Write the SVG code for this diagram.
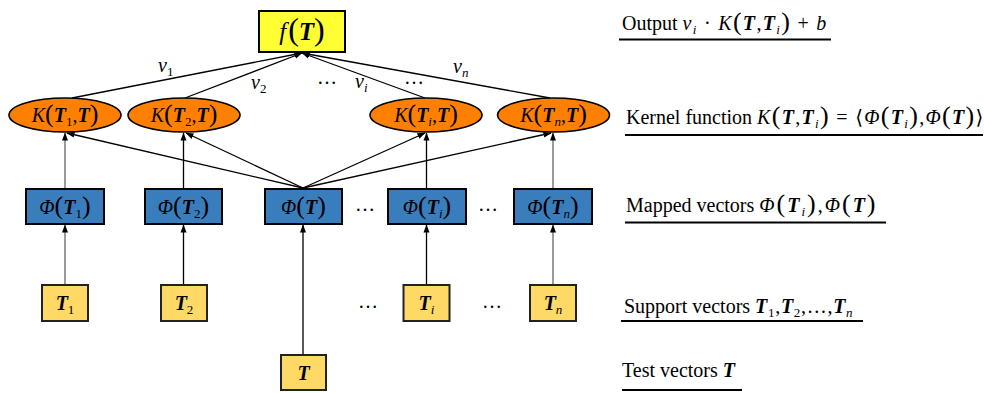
<svg xmlns="http://www.w3.org/2000/svg" width="984" height="393" viewBox="0 0 984 393">
<defs>
<marker id="ah" markerUnits="userSpaceOnUse" markerWidth="8" markerHeight="8" viewBox="0 0 8 8" refX="7.5" refY="4" orient="auto">
<path d="M0,1 L8,4 L0,7 Z" fill="#000"/>
</marker>
</defs>
<style>
text{font-family:"Liberation Serif","DejaVu Serif",serif;font-size:20px;fill:#000}
.i{font-style:italic}
.b{font-style:italic;font-weight:bold}
.s{font-size:13px}
.si{font-size:13px;font-style:italic}
.p{font-size:26px;font-weight:normal}
.fp{font-size:32px;font-weight:normal}
.big{font-size:25px}
.ls{letter-spacing:1.3px}
.c line{stroke:#000;stroke-width:1.3;fill:none;marker-end:url(#ah)}
.c line.g{stroke:#666}
.fbox{fill:#FFFF33;stroke:#000;stroke-width:2}
.ell{fill:#FF8000;stroke:#000;stroke-width:1.6}
.phi{fill:#3A7DBD;stroke:#000;stroke-width:2}
.tb{fill:#FFD966;stroke:#222;stroke-width:2}
.ul{stroke:#000;stroke-width:2.2}
</style>

<g id="connectors" class="c">
<line x1="72" y1="98" x2="302" y2="53"/>
<line x1="185" y1="98" x2="302" y2="53"/>
<line x1="425" y1="98" x2="302" y2="53"/>
<line x1="550" y1="98" x2="302" y2="53"/>
<line class="g" x1="65" y1="189" x2="65" y2="133"/>
<line x1="183.5" y1="189" x2="183.5" y2="133"/>
<line x1="426.5" y1="189" x2="426.5" y2="133"/>
<line class="g" x1="553" y1="189" x2="553" y2="133"/>
<line x1="303" y1="188" x2="67" y2="133"/>
<line x1="303" y1="188" x2="186" y2="133"/>
<line x1="303" y1="188" x2="425" y2="133"/>
<line x1="303" y1="188" x2="551" y2="133"/>
<line class="g" x1="65" y1="285" x2="65" y2="225"/>
<line x1="183.5" y1="285" x2="183.5" y2="225"/>
<line x1="426.5" y1="285" x2="426.5" y2="225"/>
<line class="g" x1="553" y1="285" x2="553" y2="225"/>
<line x1="303" y1="355" x2="303" y2="225"/>
</g>

<g id="f">
<rect class="fbox" x="259" y="11" width="86" height="41"/>
<text class="big" x="302" y="40" text-anchor="middle"><tspan class="i">f</tspan><tspan class="fp" dx="2">(</tspan><tspan class="b">T</tspan><tspan class="fp">)</tspan></text>
</g>

<g id="labels-nu">
<text x="158" y="72"><tspan class="i">ν</tspan><tspan class="s" dy="4">1</tspan></text>
<text x="251" y="89"><tspan class="i">ν</tspan><tspan class="s" dy="4">2</tspan></text>
<text x="355" y="88"><tspan class="i">ν</tspan><tspan class="si" dy="4">i</tspan></text>
<text x="453" y="73"><tspan class="i">ν</tspan><tspan class="si" dy="4">n</tspan></text>
<text x="317" y="84">…</text>
<text x="404" y="84">…</text>
</g>

<g id="k1">
<ellipse class="ell" cx="65" cy="115" rx="56" ry="17"/>
<text x="65" y="122" text-anchor="middle"><tspan class="i">K</tspan><tspan class="p">(</tspan><tspan class="b">T</tspan><tspan class="s" dy="4">1</tspan><tspan dy="-4">,</tspan><tspan class="b">T</tspan><tspan class="p">)</tspan></text>
</g>
<g id="k2">
<ellipse class="ell" cx="184" cy="115" rx="56" ry="17"/>
<text x="184" y="122" text-anchor="middle"><tspan class="i">K</tspan><tspan class="p">(</tspan><tspan class="b">T</tspan><tspan class="s" dy="4">2</tspan><tspan dy="-4">,</tspan><tspan class="b">T</tspan><tspan class="p">)</tspan></text>
</g>
<g id="ki">
<ellipse class="ell" cx="426" cy="115" rx="56" ry="17"/>
<text x="426" y="122" text-anchor="middle"><tspan class="i">K</tspan><tspan class="p">(</tspan><tspan class="b">T</tspan><tspan class="si" dy="4">i</tspan><tspan dy="-4">,</tspan><tspan class="b">T</tspan><tspan class="p">)</tspan></text>
</g>
<g id="kn">
<ellipse class="ell" cx="553.5" cy="115" rx="56" ry="17"/>
<text x="553.5" y="122" text-anchor="middle"><tspan class="i">K</tspan><tspan class="p">(</tspan><tspan class="b">T</tspan><tspan class="si" dy="4">n</tspan><tspan dy="-4">,</tspan><tspan class="b">T</tspan><tspan class="p">)</tspan></text>
</g>

<g id="phi1">
<rect class="phi" x="26" y="189" width="78" height="35"/>
<text x="65" y="214" text-anchor="middle"><tspan class="i">Φ</tspan><tspan class="p">(</tspan><tspan class="b">T</tspan><tspan class="s" dy="4">1</tspan><tspan class="p" dy="-4">)</tspan></text>
</g>
<g id="phi2">
<rect class="phi" x="145" y="189" width="77" height="35"/>
<text x="183.5" y="214" text-anchor="middle"><tspan class="i">Φ</tspan><tspan class="p">(</tspan><tspan class="b">T</tspan><tspan class="s" dy="4">2</tspan><tspan class="p" dy="-4">)</tspan></text>
</g>
<g id="phiT">
<rect class="phi" x="265" y="189" width="77" height="35"/>
<text x="303.5" y="214" text-anchor="middle"><tspan class="i">Φ</tspan><tspan class="p">(</tspan><tspan class="b">T</tspan><tspan class="p">)</tspan></text>
</g>
<g id="phii">
<rect class="phi" x="388" y="189" width="78" height="35"/>
<text x="427" y="214" text-anchor="middle"><tspan class="i">Φ</tspan><tspan class="p">(</tspan><tspan class="b">T</tspan><tspan class="si" dy="4">i</tspan><tspan class="p" dy="-4">)</tspan></text>
</g>
<g id="phin">
<rect class="phi" x="514" y="189" width="78" height="35"/>
<text x="553" y="214" text-anchor="middle"><tspan class="i">Φ</tspan><tspan class="p">(</tspan><tspan class="b">T</tspan><tspan class="si" dy="4">n</tspan><tspan class="p" dy="-4">)</tspan></text>
</g>
<g id="dots-phi">
<text x="355" y="211">…</text>
<text x="478" y="211">…</text>
</g>

<g id="t1">
<rect class="tb" x="42" y="285" width="46" height="36"/>
<text x="65" y="310" text-anchor="middle"><tspan class="b">T</tspan><tspan class="s" dy="4">1</tspan></text>
</g>
<g id="t2">
<rect class="tb" x="161" y="285" width="46" height="36"/>
<text x="184" y="310" text-anchor="middle"><tspan class="b">T</tspan><tspan class="s" dy="4">2</tspan></text>
</g>
<g id="ti">
<rect class="tb" x="403.5" y="285" width="46" height="36"/>
<text x="426.5" y="310" text-anchor="middle"><tspan class="b">T</tspan><tspan class="si" dy="4">i</tspan></text>
</g>
<g id="tn">
<rect class="tb" x="530" y="285" width="46" height="36"/>
<text x="553" y="310" text-anchor="middle"><tspan class="b">T</tspan><tspan class="si" dy="4">n</tspan></text>
</g>
<g id="dots-t">
<text x="358" y="308">…</text>
<text x="482" y="308">…</text>
</g>
<g id="t">
<rect class="tb" x="281" y="355" width="45" height="35"/>
<text x="303.5" y="380" text-anchor="middle"><tspan class="b">T</tspan></text>
</g>

<g id="legend">
<text x="622" y="30">Output <tspan class="ls"><tspan class="i">ν</tspan><tspan class="si" dy="4">i</tspan><tspan dy="-4"> · </tspan><tspan class="i">K</tspan><tspan class="p">(</tspan><tspan class="b">T</tspan>,<tspan class="b">T</tspan><tspan class="si" dy="4">i</tspan><tspan class="p" dy="-4">)</tspan> + <tspan class="i">b</tspan></tspan></text>
<line class="ul" x1="619" y1="39.5" x2="831" y2="39.5"/>
<text x="626" y="124">Kernel function <tspan class="ls"><tspan class="i">K</tspan><tspan class="p">(</tspan><tspan class="b">T</tspan>,<tspan class="b">T</tspan><tspan class="si" dy="4">i</tspan><tspan class="p" dy="-4">)</tspan> = ⟨<tspan class="i">Φ</tspan><tspan class="p">(</tspan><tspan class="b">T</tspan><tspan class="si" dy="4">i</tspan><tspan class="p" dy="-4">)</tspan>,<tspan class="i">Φ</tspan><tspan class="p">(</tspan><tspan class="b">T</tspan><tspan class="p">)</tspan>⟩</tspan></text>
<line class="ul" x1="625" y1="135" x2="983" y2="135"/>
<text x="626" y="212">Mapped vectors <tspan class="ls" style="letter-spacing:2px"><tspan class="i">Φ</tspan><tspan class="p">(</tspan><tspan class="b">T</tspan><tspan class="si" dy="4">i</tspan><tspan class="p" dy="-4">)</tspan>,<tspan class="i">Φ</tspan><tspan class="p">(</tspan><tspan class="b">T</tspan><tspan class="p">)</tspan></tspan></text>
<line class="ul" x1="625" y1="222.5" x2="886" y2="222.5"/>
<text x="624" y="313">Support vectors <tspan style="letter-spacing:0.7px"><tspan class="b">T</tspan><tspan class="s" dy="4">1</tspan><tspan dy="-4">,</tspan><tspan class="b">T</tspan><tspan class="s" dy="4">2</tspan><tspan dy="-4">,…,</tspan><tspan class="b">T</tspan><tspan class="si" dy="4">n</tspan></tspan></text>
<line class="ul" x1="621" y1="321" x2="863" y2="321"/>
<text x="622" y="377">Test vectors <tspan class="b">T</tspan></text>
<line class="ul" x1="622" y1="390" x2="742" y2="390"/>
</g>
</svg>
